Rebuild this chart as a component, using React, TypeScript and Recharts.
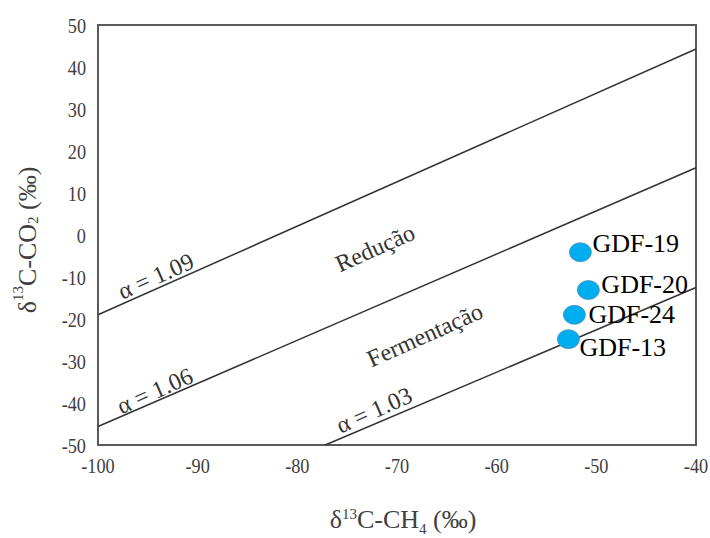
import React from "react";
import {
  ScatterChart,
  Scatter,
  XAxis,
  YAxis,
  ReferenceLine,
  ReferenceArea,
} from "recharts";

// ---- data ----
const sampleNames = ["GDF-19", "GDF-20", "GDF-24", "GDF-13"];
const sampleCH4 = [-51.6, -50.8, -52.2, -52.8];
const sampleCO2 = [-4.1, -13.1, -19.0, -24.8];

const xTicks = [-100, -90, -80, -70, -60, -50, -40];
const yTicks = [50, 40, 30, 20, 10, 0, -10, -20, -30, -40, -50];

const alphaNames = ["α = 1.09", "α = 1.06", "α = 1.03"];
const alphaStart = [
  { x: -100, y: -19 },
  { x: -100, y: -45.6 },
  { x: -77.2, y: -50 },
];
const alphaEnd = [
  { x: -40, y: 44.3 },
  { x: -40, y: 16 },
  { x: -40, y: -12.5 },
];

const annoTexts = ["α = 1.09", "Redução", "α = 1.06", "Fermentação", "α = 1.03"];
const annoX = [-94.2, -72.2, -94.3, -67.2, -72.3];
const annoY = [-9.8, -3.1, -37.1, -23.8, -41.7];

// ---- derived ----
const points = sampleNames.map((name, i) => ({ name, x: sampleCH4[i], y: sampleCO2[i] }));
const annotations = annoTexts.map((text, i) => ({ text, x: annoX[i], y: annoY[i] }));

// ---- styles ----
const FONT = "'Liberation Serif', 'Times New Roman', serif";
const TEXT_ANGLE = -24;
const labelOffsets: Record<string, { dx: number; dy: number }> = {
  "GDF-19": { dx: 12, dy: 0 },
  "GDF-20": { dx: 13, dy: 3 },
  "GDF-24": { dx: 14, dy: 8 },
  "GDF-13": { dx: 11, dy: 17 },
};

const XTick = (props: any) => {
  const { x, y, payload } = props;
  return (
    <g transform={`translate(${x}, ${y + 13})`}>
      <text
        transform="scale(0.83, 1)"
        x={0}
        y={0}
        textAnchor="middle"
        style={{ fontFamily: FONT, fontSize: 22, fill: "#404040" }}
      >
        {payload.value}
      </text>
    </g>
  );
};

const YTick = (props: any) => {
  const { x, y, payload } = props;
  return (
    <g transform={`translate(${x}, ${y + 8})`}>
      <text
        transform="scale(0.83, 1)"
        x={0}
        y={0}
        textAnchor="end"
        style={{ fontFamily: FONT, fontSize: 22, fill: "#404040" }}
      >
        {payload.value}
      </text>
    </g>
  );
};

const PointShape = (props: any) => {
  const { cx, cy, payload } = props;
  const off = labelOffsets[payload.name] || { dx: 12, dy: 0 };
  return (
    <g>
      <ellipse cx={cx} cy={cy} rx={11} ry={9.5} fill="#00AEEF" stroke="#4f8db5" strokeWidth={0.8} />
      <text
        x={cx + off.dx}
        y={cy + off.dy}
        style={{ fontFamily: FONT, fontSize: 26, fill: "#000" }}
      >
        {payload.name}
      </text>
    </g>
  );
};

const AnnoShape = (props: any) => {
  const { cx, cy, payload } = props;
  return (
    <text
      x={cx}
      y={cy}
      transform={`rotate(${TEXT_ANGLE}, ${cx}, ${cy})`}
      textAnchor="middle"
      dominantBaseline="central"
      style={{ fontFamily: FONT, fontSize: 24, fill: "#333" }}
    >
      {payload.text}
    </text>
  );
};

const YTitle = (props: any) => {
  const vb = props.viewBox || { x: 0, y: 25, width: 98, height: 420 };
  const cx = 27;
  const cy = vb.y + vb.height / 2 + 5;
  return (
    <text
      x={cx}
      y={cy}
      transform={`rotate(-90, ${cx}, ${cy})`}
      textAnchor="middle"
      dominantBaseline="central"
      style={{ fontFamily: FONT, fontSize: 26, fill: "#404040" }}
    >
      δ<tspan dy={-9} fontSize={15}>13</tspan>
      <tspan dy={9}>C-CO</tspan>
      <tspan dy={6} fontSize={15}>2</tspan>
      <tspan dy={-6}> (‰)</tspan>
    </text>
  );
};

const XTitle = (props: any) => {
  const vb = props.viewBox || { x: 98, y: 445, width: 598, height: 93 };
  const cx = vb.x + vb.width / 2 + 6;
  const cy = 528;
  return (
    <text
      x={cx}
      y={cy}
      textAnchor="middle"
      style={{ fontFamily: FONT, fontSize: 26, fill: "#404040" }}
    >
      δ<tspan dy={-9} fontSize={15}>13</tspan>
      <tspan dy={9}>C-CH</tspan>
      <tspan dy={6} fontSize={15}>4</tspan>
      <tspan dy={-6}> (‰)</tspan>
    </text>
  );
};

export default function App() {
  return (
    <div
      style={{
        position: "absolute",
        left: 0,
        top: 0,
        width: 710,
        height: 538,
        background: "#fff",
      }}
    >
      <ScatterChart
        width={710}
        height={538}
        margin={{ top: 25, right: 14, bottom: 0, left: 0 }}
      >
        <XAxis
          type="number"
          dataKey="x"
          domain={[-100, -40]}
          ticks={xTicks}
          allowDataOverflow
          axisLine={false}
          tickLine={false}
          tickSize={7}
          tickMargin={8}
          height={93}
          tick={XTick}
          label={XTitle}
        />
        <YAxis
          type="number"
          dataKey="y"
          domain={[-50, 50]}
          ticks={yTicks}
          allowDataOverflow
          axisLine={false}
          tickLine={false}
          tickSize={6}
          tickMargin={6}
          width={98}
          tick={YTick}
          label={YTitle}
        />
        <ReferenceArea
          x1={-100}
          x2={-40}
          y1={-50}
          y2={50}
          fill="none"
          fillOpacity={0}
          stroke="#5a5a5a"
          strokeWidth={2}
          strokeOpacity={1}
        />
        {alphaNames.map((n, i) => (
          <ReferenceLine
            key={n}
            segment={[alphaStart[i], alphaEnd[i]]}
            stroke="#333"
            strokeWidth={1.5}
          />
        ))}
        <Scatter data={annotations} shape={AnnoShape} isAnimationActive={false} />
        <Scatter data={points} shape={PointShape} isAnimationActive={false} />
      </ScatterChart>
    </div>
  );
}
